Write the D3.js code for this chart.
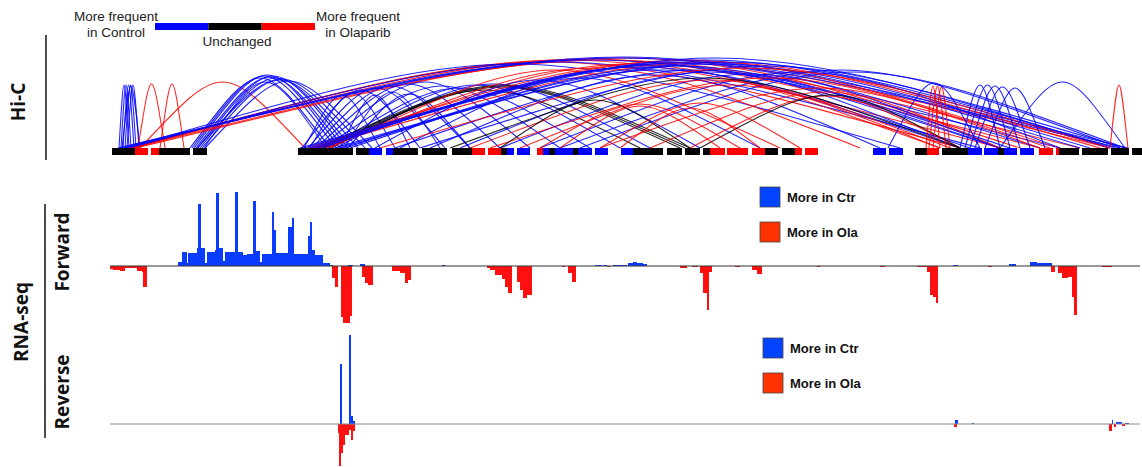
<!DOCTYPE html>
<html>
<head>
<meta charset="utf-8">
<script src="https://cdn.jsdelivr.net/npm/d3@7"></script>
<style>
body { margin: 0; background: #fff; }
svg { display: block; }
</style>
</head>
<body>
<script>
// positions are kb from the left edge of the window (0 - 1032)
// Hi-C bins: [start, end, class]  c = more in control, u = unchanged, o = more in olaparib
var bins = [
  [2,25,"u"],[25,38,"o"],[41,49,"o"],[49,80,"u"],[83,97,"u"],
  [188,243,"u"],[246,259,"u"],[259,272,"c"],[276,283,"c"],[283,308,"u"],
  [312,337,"u"],[342,362,"u"],[362,375,"o"],[378,391,"o"],[391,397,"u"],
  [397,404,"c"],[407,420,"c"],[427,433,"o"],[433,439,"c"],[439,445,"u"],
  [445,463,"c"],[463,468,"u"],[468,482,"c"],[485,498,"c"],[511,523,"c"],
  [523,553,"u"],[557,572,"u"],[575,590,"u"],[593,600,"u"],[600,615,"o"],
  [617,638,"o"],[642,655,"o"],[655,668,"u"],[672,685,"u"],[685,692,"o"],
  [695,708,"o"],[763,776,"c"],[779,793,"c"],[805,817,"u"],[817,829,"o"],
  [832,858,"u"],[858,872,"c"],[874,888,"c"],[888,894,"u"],[894,907,"c"],
  [910,924,"c"],[929,943,"o"],[946,949,"o"],[949,969,"u"],[972,998,"u"],
  [1001,1019,"u"],[1022,1032,"u"]
];

// Hi-C loops: [anchor1, anchor2, score, class]
var loops = [
  [9,19,63,"c"],[11,21,63,"c"],[13,24,63,"c"],[15,26,63,"c"],[17,29,63,"c"],[12,30,62,"c"],
  [28,55,64,"o"],[50,74,64,"o"],[30,195,66,"o"],
  [80,220,70,"c"],[82,226,72,"c"],[84,230,73,"c"],[86,234,71,"c"],[88,238,72,"c"],
  [90,242,70,"c"],[92,248,68,"c"],[94,216,66,"c"],[87,255,69,"c"],[95,262,67,"c"],
  [18,890,88,"o"],[20,930,89,"o"],[22,970,88,"o"],[24,850,86,"o"],[26,1000,90,"o"],
  [8,1018,91,"c"],[10,1010,90,"c"],[14,950,88,"c"],[16,790,84,"c"],[19,870,86,"c"],
  [192,310,58,"c"],[198,335,60,"c"],[202,360,62,"c"],[206,390,64,"c"],[210,420,66,"c"],
  [214,450,62,"c"],[218,480,60,"c"],[222,510,63,"c"],[226,540,64,"c"],[230,300,53,"c"],
  [234,330,56,"c"],[238,360,54,"c"],[194,270,53,"c"],[200,285,55,"c"],
  [208,580,63,"u"],[211,575,62,"u"],[214,570,61,"u"],[220,530,58,"u"],
  [198,910,86,"o"],[202,950,88,"o"],[206,990,86,"o"],[210,830,84,"o"],[216,750,80,"o"],[220,670,78,"o"],
  [190,1000,88,"c"],[194,1015,90,"c"],[200,970,86,"c"],[204,930,85,"c"],[208,890,83,"c"],
  [212,850,81,"c"],[225,1005,86,"c"],[230,980,84,"c"],[235,900,82,"c"],[240,860,78,"c"],
  [265,590,68,"c"],[290,650,70,"c"],[320,770,73,"c"],[350,850,76,"c"],[390,890,74,"c"],
  [430,950,76,"c"],[450,1010,78,"c"],[470,1015,76,"c"],[285,890,78,"c"],[310,1000,82,"c"],
  [270,1000,80,"o"],[360,840,68,"o"],[380,940,70,"o"],[410,830,63,"o"],[490,930,60,"o"],
  [540,890,56,"o"],[580,850,52,"o"],
  [340,850,70,"u"],[390,580,48,"u"],[590,850,53,"u"],
  [430,630,44,"o"],[450,610,42,"o"],[490,690,45,"o"],[510,650,40,"o"],
  [816,830,62,"o"],[819,836,62,"o"],[823,840,61,"o"],
  [850,890,63,"c"],[855,900,63,"c"],[860,910,62,"c"],[865,920,61,"c"],[875,935,60,"c"],
  [778,870,65,"c"],[890,1015,66,"c"],[1000,1018,63,"o"]
];

// RNA-seq forward strand difference: [start, end, value]
var fwdCtr = [
  [68,72,4],[72,77,14],[77,78,3],[78,87,13],[87,88,18],[88,91,62],[91,95,18],[95,97,3],
  [97,105,14],[105,106,16],[106,109,73],[109,113,18],[113,115,5],[115,125,14],[125,128,74],
  [128,133,14],[133,137,11],[137,143,12],[143,146,65],[146,150,15],[150,152,4],[152,162,12],
  [162,164,54],[164,166,36],[166,168,13],[168,178,13],[178,182,39],[182,184,48],[184,188,12],
  [188,198,12],[198,200,30],[200,202,44],[202,205,16],[205,213,11],[213,220,3],[220,223,1],
  [238,243,1],[250,255,2],[332,335,1],[485,492,1],[493,497,1],[503,517,1],[518,523,3],
  [523,527,4],[527,533,3],[533,537,2],[843,848,1],[899,906,2],[920,927,4],[927,935,3],[935,942,3]
];
var fwdOla = [
  [0,3,3],[3,10,4],[10,15,5],[15,27,2],[27,32,5],[32,33,6],[33,37,21],[222,225,12],[225,228,21],
  [231,233,51],[233,240,57],[240,242,50],[252,255,11],[255,258,17],[258,263,19],[282,290,5],
  [290,295,7],[295,298,17],[298,301,14],[377,380,2],[380,385,4],[385,392,9],[392,395,13],
  [395,398,21],[398,402,27],[407,410,16],[410,413,24],[413,417,32],[417,422,29],[452,455,1],
  [458,462,7],[462,466,16],[497,500,1],[570,577,2],[582,588,1],[590,593,7],[593,597,27],
  [597,599,44],[599,602,6],[625,630,1],[642,647,4],[647,652,8],[707,710,1],[770,775,1],
  [807,817,1],[817,820,6],[820,823,29],[823,826,31],[826,828,37],[878,882,1],[941,945,6],
  [948,952,7],[952,958,12],[958,962,11],[962,964,31],[964,967,49],[992,1002,1]
];
// RNA-seq reverse strand difference
var revCtr = [
  [230,232,60],[239,241,89],[241,243,8],[243,245,3],[845,848,4],[862,864,1],
  [1002,1003,4],[1006,1012,2],[1015,1019,1]
];
var revOla = [
  [228,229,9],[229,231,42],[231,233,29],[233,235,21],[235,239,11],[239,241,6],[241,243,16],
  [243,245,7],[844,847,3],[999,1002,7],[1004,1006,3],[1012,1015,2]
];

var hicColor = { c: "#0000ff", u: "#000000", o: "#ff0000" };
var ctrColor = "#0a3cff", olaColor = "#ff1010";

var W = 1142, H = 467;
var svg = d3.select("body").append("svg").attr("width", W).attr("height", H)
  .style("font-family", "'Liberation Sans', Arial, sans-serif");

var x = d3.scaleLinear().domain([0, 1032]).range([110, 1142]);

// ---------- Hi-C ----------
var arcBase = 148;
var arcH = d3.scaleLinear().domain([0, 100]).range([0, 100]);

svg.append("g").selectAll("path")
  .data(loops)
  .enter().append("path")
  .attr("d", function(d) {
    var x1 = x(d[0]), x2 = x(d[1]), xm = (x1 + x2) / 2;
    var top = arcBase - arcH(d[2]) / 0.75;
    var p = d3.path();
    p.moveTo(x1, arcBase);
    p.bezierCurveTo(xm, top, xm, top, x2, arcBase);
    return p.toString();
  })
  .attr("fill", "none")
  .attr("stroke", function(d) { return hicColor[d[3]]; })
  .attr("stroke-width", 1.1)
  .attr("stroke-opacity", 0.85);

svg.append("g").selectAll("rect")
  .data(bins)
  .enter().append("rect")
  .attr("x", function(d) { return x(d[0]); })
  .attr("width", function(d) { return x(d[1]) - x(d[0]); })
  .attr("y", arcBase)
  .attr("height", 7)
  .attr("fill", function(d) { return hicColor[d[2]]; });

// colour key
var keyX = d3.scaleLinear().domain([0, 3]).range([155, 315]);
svg.append("g").selectAll("rect")
  .data(["c", "u", "o"])
  .enter().append("rect")
  .attr("x", function(d, i) { return keyX(i); })
  .attr("width", keyX(1) - keyX(0))
  .attr("y", 23).attr("height", 7)
  .attr("fill", function(d) { return hicColor[d]; });

var keyText = [
  [116, 21, "More frequent"], [116, 37, "in Control"],
  [358, 21, "More frequent"], [358, 37, "in Olaparib"],
  [237, 46, "Unchanged"]
];
svg.append("g").selectAll("text")
  .data(keyText)
  .enter().append("text")
  .attr("x", function(d) { return d[0]; })
  .attr("y", function(d) { return d[1]; })
  .attr("text-anchor", "middle")
  .attr("font-size", 13.5)
  .attr("fill", "#222")
  .text(function(d) { return d[2]; });

// ---------- RNA-seq ----------
function track(y, ctr, ola, lineColor, legendY) {
  var g = svg.append("g");
  g.selectAll("rect.ctr").data(ctr).enter().append("rect")
    .attr("class", "ctr")
    .attr("x", function(d) { return x(d[0]); })
    .attr("width", function(d) { return x(d[1]) - x(d[0]); })
    .attr("y", function(d) { return y(d[2]); })
    .attr("height", function(d) { return y(0) - y(d[2]); })
    .attr("fill", ctrColor);
  g.selectAll("rect.ola").data(ola).enter().append("rect")
    .attr("class", "ola")
    .attr("x", function(d) { return x(d[0]); })
    .attr("width", function(d) { return x(d[1]) - x(d[0]); })
    .attr("y", y(0))
    .attr("height", function(d) { return y(-d[2]) - y(0); })
    .attr("fill", olaColor);
  g.append("line")
    .attr("x1", x(0)).attr("x2", x(1030))
    .attr("y1", y(0)).attr("y2", y(0))
    .attr("stroke", lineColor).attr("stroke-width", 1.2);

  var leg = g.append("g").attr("transform", "translate(" + legendY[0] + "," + legendY[1] + ")");
  var items = [["More in Ctr", "#0044ff"], ["More in Ola", "#ff3300"]];
  leg.selectAll("rect").data(items).enter().append("rect")
    .attr("x", 0).attr("y", function(d, i) { return i * 35; })
    .attr("width", 20).attr("height", 20)
    .attr("fill", function(d) { return d[1]; })
    .attr("stroke", "#444").attr("stroke-width", 0.8);
  leg.selectAll("text").data(items).enter().append("text")
    .attr("x", 27).attr("y", function(d, i) { return i * 35 + 15; })
    .attr("font-size", 13).attr("font-weight", "bold").attr("fill", "#111")
    .text(function(d) { return d[0]; });
}

var yFwd = d3.scaleLinear().domain([-60, 80]).range([326, 186]);
var yRev = d3.scaleLinear().domain([-50, 95]).range([474, 329]);
track(yFwd, fwdCtr, fwdOla, "#333", [760, 187]);
track(yRev, revCtr, revOla, "#888", [763, 338]);

// ---------- side labels ----------
var side = svg.append("g").attr("font-weight", "bold").attr("fill", "#111")
  .style("font-family", "'Open Sans', 'Noto Sans', sans-serif");
function vlabel(cx, cy, txt, size) {
  side.append("text")
    .attr("transform", "translate(" + cx + "," + cy + ") rotate(-90)")
    .attr("text-anchor", "middle")
    .attr("font-size", size)
    .text(txt);
}
vlabel(25, 102, "Hi-C", 19);
vlabel(28, 322, "RNA-seq", 19);
vlabel(69, 252, "Forward", 19);
vlabel(69, 392, "Reverse", 19);

svg.append("line").attr("x1", 46).attr("x2", 46).attr("y1", 35).attr("y2", 160)
  .attr("stroke", "#111").attr("stroke-width", 1.5);
svg.append("line").attr("x1", 45).attr("x2", 45).attr("y1", 204).attr("y2", 438)
  .attr("stroke", "#111").attr("stroke-width", 1.5);
</script>
</body>
</html>
